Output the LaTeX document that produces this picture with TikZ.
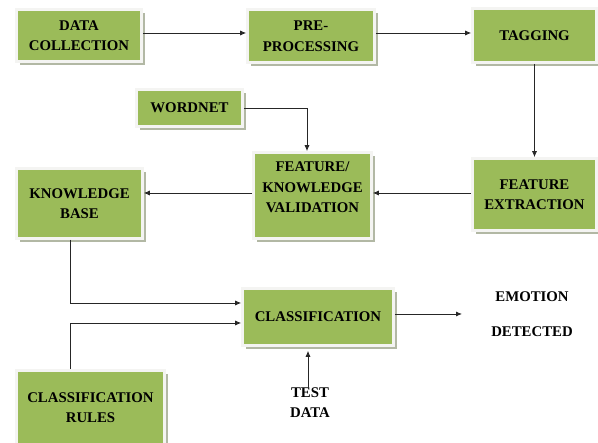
\documentclass[tikz,border=0pt]{standalone}
\usepackage{fontspec}
\setmainfont{Liberation Serif}[BoldFont={Liberation Serif Bold}]
\newfontfamily\stagefont{Liberation Serif Bold}
\usetikzlibrary{arrows.meta,shadows}
\definecolor{boxgreen}{RGB}{155,187,89}
\definecolor{boxrim}{RGB}{244,244,242}
\definecolor{boxshade}{RGB}{178,184,164}
\tikzset{
  stage/.style={rectangle, fill=boxgreen, draw=boxrim, line width=2.6pt,
    drop shadow={shadow xshift=3.4pt, shadow yshift=-3.4pt, fill=boxshade, opacity=1},
    align=center, inner sep=2pt, font=\stagefont\fontsize{14.8}{20.5}\selectfont},
  plain/.style={align=center, inner sep=2pt, font=\stagefont\fontsize{14.8}{20.5}\selectfont},
  flow/.style={line width=0.8pt, draw=black!85, -{Latex[length=6pt,width=5pt]}},
}
\begin{document}
\begin{tikzpicture}[x=1pt,y=-1pt]
\useasboundingbox (0,0) rectangle (598,443);

% process stages
\node[stage, minimum width=125, minimum height=52] (dc) at (79,35.5) {DATA\\COLLECTION};
\node[stage, minimum width=127, minimum height=53] (pp) at (311,36) {PRE-\\PROCESSING};
\node[stage, minimum width=124, minimum height=54] (tg) at (534.5,35.5) {TAGGING};
\node[stage, minimum width=106, minimum height=37] (wn) at (189.5,108) {WORDNET};
\node[stage, minimum width=118, minimum height=86,
  label={[plain, yshift=8pt]center:FEATURE/\\KNOWLEDGE\\VALIDATION}] (fk) at (312.5,195.5) {};
\node[stage, minimum width=124, minimum height=72] (fe) at (534.5,194.5) {FEATURE\\EXTRACTION};
\node[stage, minimum width=126, minimum height=70] (kb) at (79.5,203.5) {KNOWLEDGE\\BASE};
\node[stage, minimum width=151, minimum height=57] (cl) at (318,317) {CLASSIFICATION};
\node[stage, minimum width=148, minimum height=74] (cr) at (90.5,407.5) {CLASSIFICATION\\RULES};

% free-standing labels
\node[plain] (td) at (310,402.5) {TEST\\DATA};
\node[plain] (em) at (532,314.5) {EMOTION\\[14.5pt]DETECTED};
\coordinate (emin) at (462,314);

% connectors
\draw[flow] ([yshift=2.5pt]dc.east) -- ([yshift=2.5pt]dc.east -| pp.west);
\draw[flow] ([yshift=3pt]pp.east) -- ([yshift=3pt]pp.east -| tg.west);
\draw[flow] (tg.south) -- (fe.north);
\draw[flow] (wn.east) -| ([xshift=-5.5pt]fk.north);
\draw[flow] ([yshift=1.5pt]fe.west) -- ([yshift=1.5pt]fe.west -| fk.east);
\draw[flow] ([yshift=2.5pt]fk.west) -- ([yshift=2.5pt]fk.west -| kb.east);
\draw[flow] ([xshift=-9.5pt]kb.south) |- ([yshift=14pt]cl.west);
\draw[flow] ([xshift=-20.5pt]cr.north) |- ([yshift=-6pt]cl.west);
\draw[flow] ([xshift=-2pt,yshift=-4pt]td.north) -- ([xshift=-2pt,yshift=-4pt]td.north |- cl.south);
\draw[flow] ([yshift=3pt]cl.east) -- (emin);
\end{tikzpicture}
\end{document}
